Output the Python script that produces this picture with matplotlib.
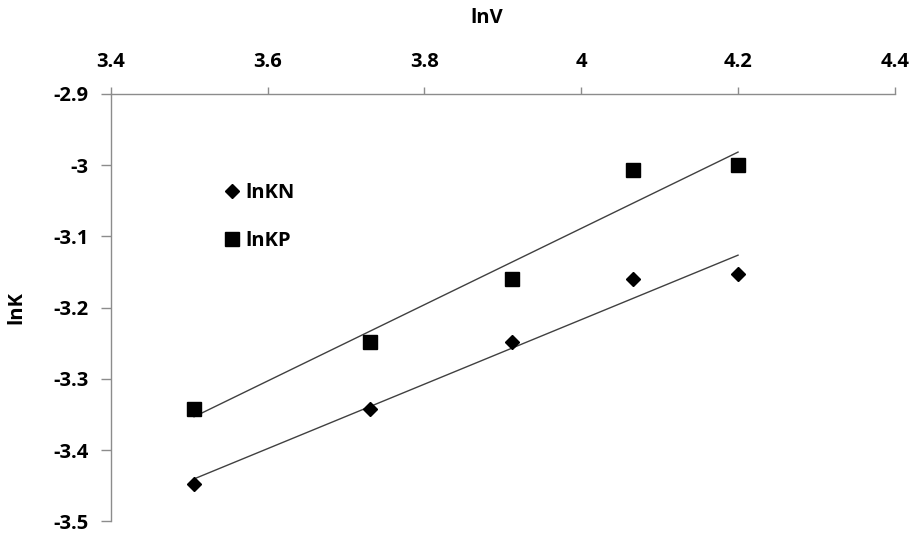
import numpy as np
import matplotlib.pyplot as plt

plt.rcParams["font.family"] = ["Open Sans", "DejaVu Sans"]

# data
lnV = [3.506, 3.730, 3.912, 4.066, 4.200]
lnKN = [-3.447, -3.342, -3.248, -3.160, -3.152]
lnKP = [-3.342, -3.248, -3.160, -3.007, -3.000]
xticks = [3.4, 3.6, 3.8, 4.0, 4.2, 4.4]
xtick_labels = ["3.4", "3.6", "3.8", "4", "4.2", "4.4"]
yticks = [-3.5, -3.4, -3.3, -3.2, -3.1, -3.0, -2.9]
ytick_labels = ["-3.5", "-3.4", "-3.3", "-3.2", "-3.1", "-3", "-2.9"]

fig = plt.figure(figsize=(9.14, 5.37), dpi=100)
ax = fig.add_axes([0.1214, 0.029, 0.8576, 0.796])

x = np.array(lnV)
for ys in (lnKN, lnKP):
    k, b = np.polyfit(x, ys, 1)
    xx = np.array([x.min(), x.max()])
    ax.plot(xx, k * xx + b, color="#404040", lw=1.0, zorder=2)

ax.plot(lnV, lnKN, ls="none", marker="D", ms=7.5, color="black", label="lnKN", zorder=3)
ax.plot(lnV, lnKP, ls="none", marker="s", ms=10.5, color="black", label="lnKP", zorder=3)

ax.set_xlim(3.4, 4.4)
ax.set_ylim(-3.5, -2.9)
ax.set_xticks(xticks)
ax.set_xticklabels(xtick_labels)
ax.set_yticks(yticks)
ax.set_yticklabels(ytick_labels)

ax.xaxis.tick_top()
ax.xaxis.set_label_position("top")
for s in ("right", "bottom"):
    ax.spines[s].set_visible(False)
for s in ("top", "left"):
    ax.spines[s].set_color("#8c8c8c")
    ax.spines[s].set_linewidth(1.0)
ax.tick_params(axis="both", direction="out", width=1, color="#8c8c8c", labelsize=14.5)
ax.tick_params(axis="x", length=5, pad=11)
ax.tick_params(axis="y", length=7, pad=9)
for lab in ax.get_xticklabels() + ax.get_yticklabels():
    lab.set_fontweight("bold")

ax.set_xlabel("lnV", fontsize=14.5, fontweight="bold")
ax.xaxis.set_label_coords(0.479, 1.167)
ax.set_ylabel("lnK", fontsize=14.5, fontweight="bold")
ax.yaxis.set_label_coords(-0.108, 0.5)

leg = ax.legend(loc="upper left", bbox_to_anchor=(0.117, 0.835), frameon=False,
                fontsize=14.5, handletextpad=0.1, labelspacing=1.4, handlelength=1.1,
                markerscale=0.9)
for t in leg.get_texts():
    t.set_fontweight("bold")

fig.savefig("out.png", dpi=100)
